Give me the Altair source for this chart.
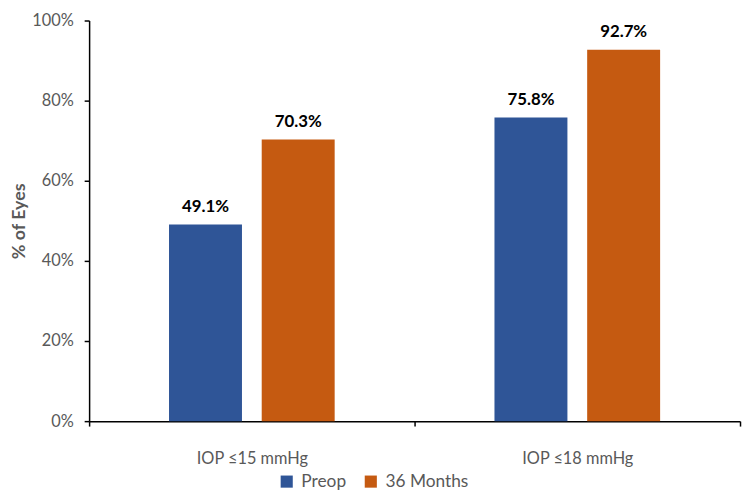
import altair as alt
import pandas as pd

categories = ["IOP ≤15 mmHg", "IOP ≤18 mmHg"]
series = ["Preop", "36 Months"]
preop = [49.1, 75.8]
months36 = [70.3, 92.7]
colors = ["#2F5597", "#C55A11"]

rows = []
for i, c in enumerate(categories):
    rows.append({"cat": c, "series": series[0], "value": preop[i] / 100})
    rows.append({"cat": c, "series": series[1], "value": months36[i] / 100})
df = pd.DataFrame(rows)

FONT = "Lato"
GRAY = "#595959"

x = alt.X("cat:N", sort=categories, title=None,
          scale=alt.Scale(paddingInner=0, paddingOuter=0),
          axis=alt.Axis(labelAngle=0, tickBand="extent", domainColor="#000000",
                        tickColor="#000000", tickSize=5, labelPadding=25,
                        labelFontSize=16.5, labelColor=GRAY, labelFont=FONT,
                        domainWidth=1.5, tickWidth=1.5))
xo = alt.XOffset("series:N", sort=series,
                 scale=alt.Scale(paddingInner=0.213, paddingOuter=0.862))
y = alt.Y("value:Q", title="% of Eyes",
          scale=alt.Scale(domain=[0, 1], nice=False),
          axis=alt.Axis(format=".0%", values=[0, 0.2, 0.4, 0.6, 0.8, 1.0], grid=False,
                        domainColor="#000000", tickColor="#000000", tickSize=5,
                        labelPadding=11, labelFontSize=16.5, labelColor=GRAY,
                        labelFont=FONT, titleFont=FONT, titleFontSize=18,
                        titleFontWeight="bold", titleColor=GRAY, titlePadding=3,
                        domainWidth=1.5, tickWidth=1.5))

color = alt.Color("series:N", sort=series,
                  scale=alt.Scale(domain=series, range=colors),
                  legend=alt.Legend(title=None, orient="none", legendX=191, legendY=457,
                                    direction="horizontal", symbolType="square",
                                    symbolSize=150, symbolStrokeWidth=0,
                                    labelFontSize=17.5, labelColor=GRAY, labelFont=FONT,
                                    labelOffset=6, columnPadding=16))

bars = alt.Chart(df).mark_bar().encode(x=x, xOffset=xo, y=y, color=color)
labels = alt.Chart(df).mark_text(baseline="middle", dy=-18, fontSize=17,
                                 fontWeight="bold", font=FONT, color="#000000").encode(
    x=alt.X("cat:N", sort=categories), xOffset=xo, y="value:Q",
    text=alt.Text("value:Q", format=".1%"))

chart = alt.layer(bars, labels).properties(
    width=658, height=405,
    autosize=alt.AutoSizeParams(type="none"),
    padding={"left": 82, "top": 10, "right": 2, "bottom": 70},
).configure_view(stroke=None)

chart.save("out.html", embed_options={"renderer": "svg", "actions": False})
